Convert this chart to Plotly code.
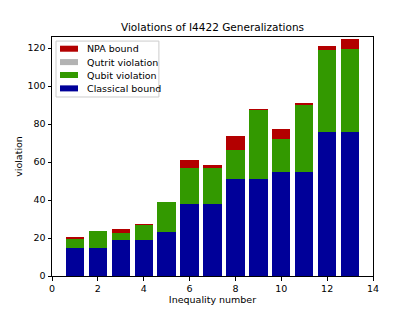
import plotly.graph_objects as go

inequality = list(range(1, 14))
classical_bound = [15, 15, 19, 19, 23, 38, 38, 51, 51, 55, 55, 76, 76]
qubit_violation = [19.4, 23.8, 22.6, 26.9, 39.0, 56.8, 56.8, 66.5, 87.6, 72.1, 89.9, 118.9, 119.6]
qutrit_violation = [19.4, 23.8, 22.6, 26.9, 39.0, 56.8, 56.8, 66.5, 87.6, 72.1, 89.9, 118.9, 119.6]
npa_bound = [20.6, 23.9, 24.7, 27.5, 39.1, 60.9, 58.4, 73.6, 87.8, 77.5, 91.3, 120.9, 124.5]

series = [
    ("NPA bound", npa_bound, "#b30000"),
    ("Qutrit violation", qutrit_violation, "#b3b3b3"),
    ("Qubit violation", qubit_violation, "#339900"),
    ("Classical bound", classical_bound, "#000099"),
]

fig = go.Figure()
for name, vals, color in series:
    fig.add_trace(go.Bar(x=inequality, y=vals, name=name, width=0.8,
                         marker=dict(color=color, line=dict(width=0)),
                         showlegend=False))

# Page body has an 8px margin, so the figure is 8px smaller and margins compensate.
W, H = 407, 303
axis_common = dict(showline=True, linecolor="black", linewidth=1, mirror=True,
                   ticks="outside", ticklen=3.5, tickcolor="black", showgrid=False,
                   zeroline=False, automargin=False,
                   tickfont=dict(size=9.5, color="black"))

# matplotlib-style legend (box + wide patches + labels), in paper coordinates
shapes = [dict(type="rect", xref="paper", yref="paper", x0=0.0125, x1=0.333,
               y0=0.749, y1=0.983, fillcolor="rgba(255,255,255,0.8)",
               line=dict(color="#cccccc", width=1), layer="above")]
annotations = []
row_y = [0.951, 0.895, 0.841, 0.785]
for (name, _, color), yy in zip(series, row_y):
    shapes.append(dict(type="rect", xref="paper", yref="paper", x0=0.025, x1=0.081,
                       y0=yy - 0.0126, y1=yy + 0.0126, fillcolor=color,
                       line=dict(width=0), layer="above"))
    annotations.append(dict(text=name, xref="paper", yref="paper", x=0.103, y=yy,
                            xanchor="left", yanchor="middle", showarrow=False,
                            font=dict(size=9.5, color="black")))

fig.update_layout(
    width=W, height=H,
    barmode="overlay",
    bargap=0,
    font=dict(family="DejaVu Sans", color="black"),
    paper_bgcolor="white", plot_bgcolor="white",
    margin=dict(l=44, r=42, t=29, b=35, autoexpand=False),
    title=dict(text="Violations of I4422 Generalizations", xref="container", x=0.5025,
               xanchor="center", yref="container", y=1 - 19.7 / H, yanchor="middle",
               font=dict(size=10.5, color="black")),
    xaxis=dict(range=[0, 14], tickvals=list(range(0, 15, 2)),
               title=dict(text="Inequality number", font=dict(size=9.5), standoff=2), **axis_common),
    yaxis=dict(range=[0, 125.8], tickvals=list(range(0, 121, 20)),
               title=dict(text="violation", font=dict(size=9.5), standoff=3), **axis_common),
    shapes=shapes,
    annotations=annotations,
    showlegend=False,
)

fig.write_html("out.html")
